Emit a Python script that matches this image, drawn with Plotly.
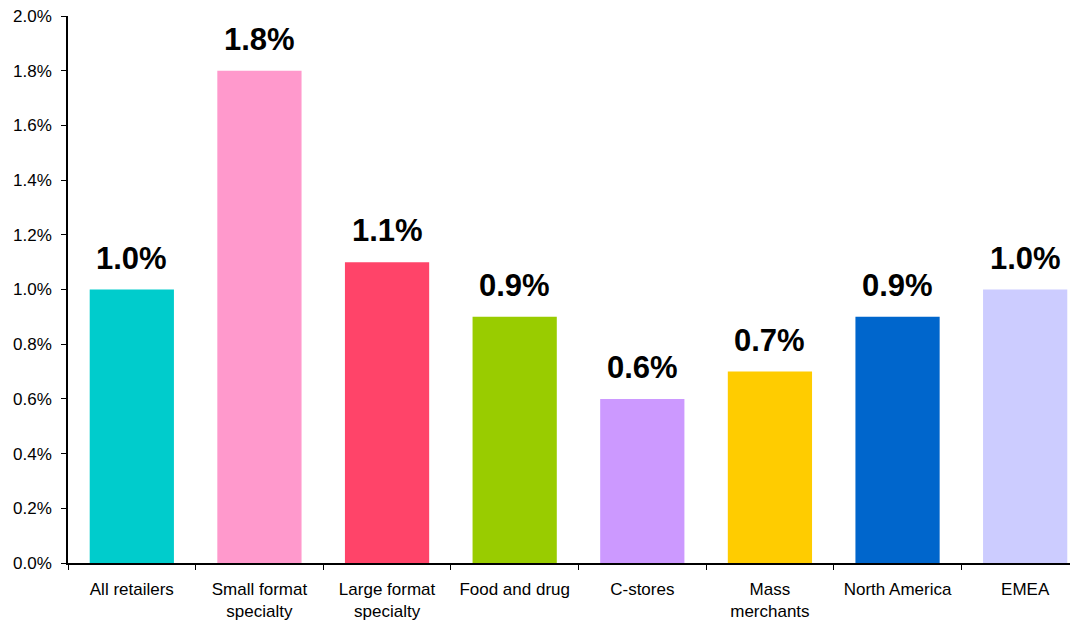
import plotly.graph_objects as go

categories = ["All retailers", "Small format<br>specialty", "Large format<br>specialty",
              "Food and drug", "C-stores", "Mass<br>merchants", "North America", "EMEA"]
values = [1.0, 1.8, 1.1, 0.9, 0.6, 0.7, 0.9, 1.0]
labels = ["1.0%", "1.8%", "1.1%", "0.9%", "0.6%", "0.7%", "0.9%", "1.0%"]
colors = ["#00CCCC", "#FF99CC", "#FF4469", "#99CC00", "#CC99FF", "#FFCC00", "#0066CC", "#CCCCFF"]
tick_vals = [0.0, 0.2, 0.4, 0.6, 0.8, 1.0, 1.2, 1.4, 1.6, 1.8, 2.0]
tick_text = ["0.0%", "0.2%", "0.4%", "0.6%", "0.8%", "1.0%", "1.2%", "1.4%", "1.6%", "1.8%", "2.0%"]

fig = go.Figure()
fig.add_trace(go.Bar(
    x=categories, y=values, marker=dict(color=colors, line=dict(width=0)),
    width=0.66, showlegend=False, hoverinfo="skip",
))
for c, v, t in zip(categories, values, labels):
    fig.add_annotation(x=c, y=v, text="<b>%s</b>" % t, showarrow=False,
                       yanchor="bottom", yshift=12,
                       font=dict(family="Liberation Sans, Arial", size=31, color="#000000"))

# page body has an 8px default margin, so the figure is offset by 8px
fig.update_layout(
    width=1070, height=613,
    margin=dict(l=60, r=0, t=8, b=58),
    paper_bgcolor="white", plot_bgcolor="white",
    font=dict(family="Liberation Sans, Arial", size=17, color="#000000"),
    bargap=0.34,
)
fig.update_xaxes(
    range=[-0.5, 7.414], showline=True, linecolor="#000000", linewidth=1.5,
    ticks="outside", tickson="boundaries", ticklen=5, tickcolor="#000000",
    showgrid=False, tickfont=dict(size=17), tickangle=0, automargin=False,
    ticklabelstandoff=10,
)
fig.update_yaxes(
    range=[0, 2.0001], tickvals=tick_vals, ticktext=tick_text,
    showline=True, linecolor="#000000", linewidth=1.5,
    ticks="outside", ticklen=5, tickcolor="#000000",
    showgrid=False, zeroline=False, tickfont=dict(size=17), automargin=False,
    ticklabelstandoff=6, ticklabeloverflow="allow",
)
fig.write_html("out.html")
